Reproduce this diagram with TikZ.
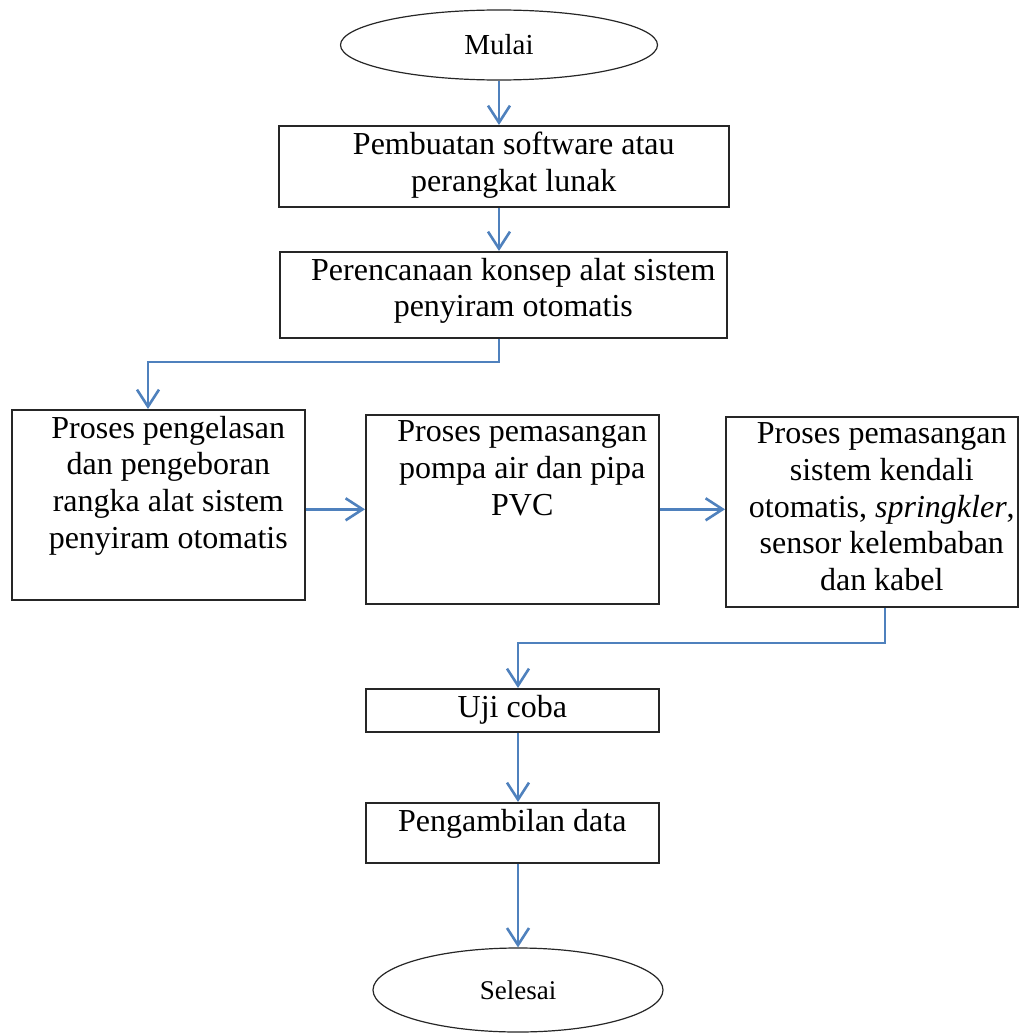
\documentclass[tikz,border=0pt]{standalone}
\usepackage{fontspec}
\setmainfont{Liberation Serif}
\usetikzlibrary{arrows.meta,shapes.geometric}
\definecolor{flowblue}{RGB}{79,129,189}
% box body: [left shift]{width}{height}{text}, text hangs from the top
\newcommand{\stepbody}[4][20pt]{\parbox[c][#3][t]{#2}{\centering\leftskip=#1 plus 1fil\relax\vspace*{6pt}#4}}

\begin{document}
\begin{tikzpicture}[x=1pt,y=-1pt,
  stepbox/.style={draw=black!85, line width=1.6pt, inner sep=0pt, anchor=north west, font=\fontsize{32}{36.7}\selectfont},
  term/.style={draw=black!85, ellipse, line width=1.2pt, inner sep=0pt},
  flow/.style={draw=flowblue, line width=2.6pt, -{Straight Barb[length=17pt,width=22pt]}}]
   \useasboundingbox (0,0) rectangle (1024,1033);
   \node[term, minimum width=317pt, minimum height=70pt, font=\fontsize{29}{32}\selectfont] (mulai) at (499,45) {Mulai};
   \node[stepbox] (software) at (278,125) {\stepbody{450pt}{81pt}{Pembuatan software atau\\perangkat lunak}};
   \node[stepbox] (rencana) at (279,251) {\stepbody{447pt}{86pt}{Perencanaan konsep alat sistem\\penyiram otomatis}};
   \node[stepbox] (las) at (11,409) {\stepbody{293pt}{190pt}{Proses pengelasan\\dan pengeboran\\rangka alat sistem\\penyiram otomatis}};
   \node[stepbox] (pompa) at (365,414) {\stepbody{293pt}{189pt}{Proses pemasangan\\pompa air dan pipa\\PVC}};
   \node[stepbox] (kendali) at (725,416) {\stepbody{292pt}{190pt}{Proses pemasangan\\sistem kendali\\otomatis, \textit{springkler},\\sensor kelembaban\\dan kabel}};
   \node[stepbox] (uji) at (365,688) {\stepbody[0pt]{293pt}{43pt}{Uji coba}};
   \node[stepbox] (ambil) at (365,802) {\stepbody[0pt]{293pt}{60pt}{Pengambilan data}};
   \node[term, minimum width=290pt, minimum height=84pt, font=\fontsize{27}{30}\selectfont] (selesai) at (518,990) {Selesai};

   \coordinate (bendA) at (148,362);
   \coordinate (bendB) at (885,643);
   \coordinate (bendC) at (518,643);

   \draw[flow] (mulai.south) -- (software.north -| mulai);
   \draw[flow] (software.south -| mulai) -- (rencana.north -| mulai);
   \draw[flow] (rencana.south -| mulai) |- (bendA) -- (las.north -| bendA);
   \draw[flow] (las.east |- pompa.west) -- (pompa.west);
   \draw[flow] (pompa.east) -- (kendali.west |- pompa.east);
   \draw[flow] (kendali.south -| bendB) -- (bendB) -- (bendC) -- (uji.north -| bendC);
   \draw[flow] (uji.south -| bendC) -- (ambil.north -| bendC);
   \draw[flow] (ambil.south -| bendC) -- (selesai.north);
\end{tikzpicture}
\end{document}
